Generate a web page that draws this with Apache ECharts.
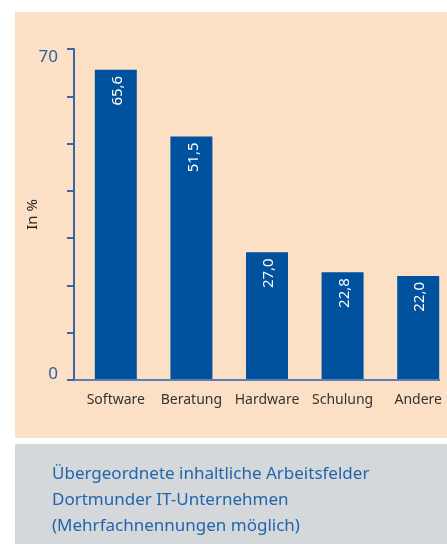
<!DOCTYPE html>
<html>
<head>
<meta charset="utf-8">
<script src="https://cdn.jsdelivr.net/npm/echarts@6/dist/echarts.min.js"></script>
<style>
  html, body { margin: 0; padding: 0; background: #fff; }
  #chart { width: 447px; height: 544px; }
</style>
</head>
<body>
<div id="chart"></div>
<script>
// data
const categories = ['Software', 'Beratung', 'Hardware', 'Schulung', 'Andere'];
const shares = [65.6, 51.5, 27.0, 22.8, 22.0];
const yTicksShown = [0, 70];
const caption = 'Übergeordnete inhaltliche Arbeitsfelder\nDortmunder IT-Unternehmen\n(Mehrfachnennungen möglich)';

const blue = '#00519e';
const axisBlue = '#3a66a6';

const chart = echarts.init(document.getElementById('chart'));

chart.setOption({
  backgroundColor: '#ffffff',
  animation: false,
  title: {
    text: caption,
    left: 47,
    top: 456,
    textStyle: {
      color: '#2265ad',
      fontFamily: 'Noto Sans',
      fontWeight: 'normal',
      fontSize: 17,
      lineHeight: 26
    }
  },
  graphic: [
    {
      type: 'rect',
      z: -10,
      shape: { x: 15, y: 12, width: 432, height: 426 },
      style: { fill: '#fce0c5' }
    },
    {
      type: 'rect',
      z: -10,
      shape: { x: 15, y: 444, width: 432, height: 100 },
      style: { fill: '#d4d8da' }
    },
    {
      // baseline of the category axis
      type: 'line',
      z: 5,
      shape: { x1: 74, y1: 380, x2: 440, y2: 380 },
      style: { stroke: '#5a7fb4', lineWidth: 2 }
    }
  ],
  grid: {
    left: 78,
    width: 378,
    top: 49,
    bottom: 164,
    outerBoundsMode: 'none'
  },
  xAxis: {
    type: 'category',
    data: categories,
    axisLine: { show: false },
    axisTick: { show: false },
    axisLabel: {
      interval: 0,
      hideOverlap: false,
      color: '#333333',
      fontFamily: 'Noto Sans',
      fontSize: 14,
      margin: 13
    }
  },
  yAxis: {
    type: 'value',
    min: 0,
    max: 70,
    interval: 10,
    offset: 4,
    name: 'In %',
    nameLocation: 'middle',
    nameGap: 34,
    nameMoveOverlap: false,
    nameTextStyle: {
      color: '#222222',
      fontFamily: 'Noto Sans',
      fontSize: 15
    },
    axisLine: { show: true, lineStyle: { color: axisBlue, width: 2 } },
    axisTick: { show: true, length: 7, lineStyle: { color: axisBlue, width: 2 } },
    splitLine: { show: false },
    axisLabel: {
      color: '#2f5f9f',
      fontFamily: 'Noto Sans',
      fontSize: 17,
      margin: 16,
      verticalAlignMinLabel: 'bottom',
      verticalAlignMaxLabel: 'top',
      formatter: function (v) {
        if (yTicksShown.indexOf(v) < 0) return '';
        return v === 0 ? '{low|0}' : String(v);
      },
      rich: {
        low: { lineHeight: 11, fontSize: 17, fontFamily: 'Noto Sans', color: '#2f5f9f' }
      }
    }
  },
  series: [
    {
      type: 'bar',
      data: shares,
      barWidth: 42,
      itemStyle: { color: blue },
      label: {
        show: true,
        position: 'insideTop',
        rotate: 90,
        align: 'right',
        verticalAlign: 'middle',
        offset: [0, 2],
        distance: 6,
        color: '#ffffff',
        fontFamily: 'Noto Sans',
        fontSize: 15,
        formatter: function (p) {
          return p.value.toFixed(1).replace('.', ',');
        }
      }
    }
  ]
});
</script>
</body>
</html>
